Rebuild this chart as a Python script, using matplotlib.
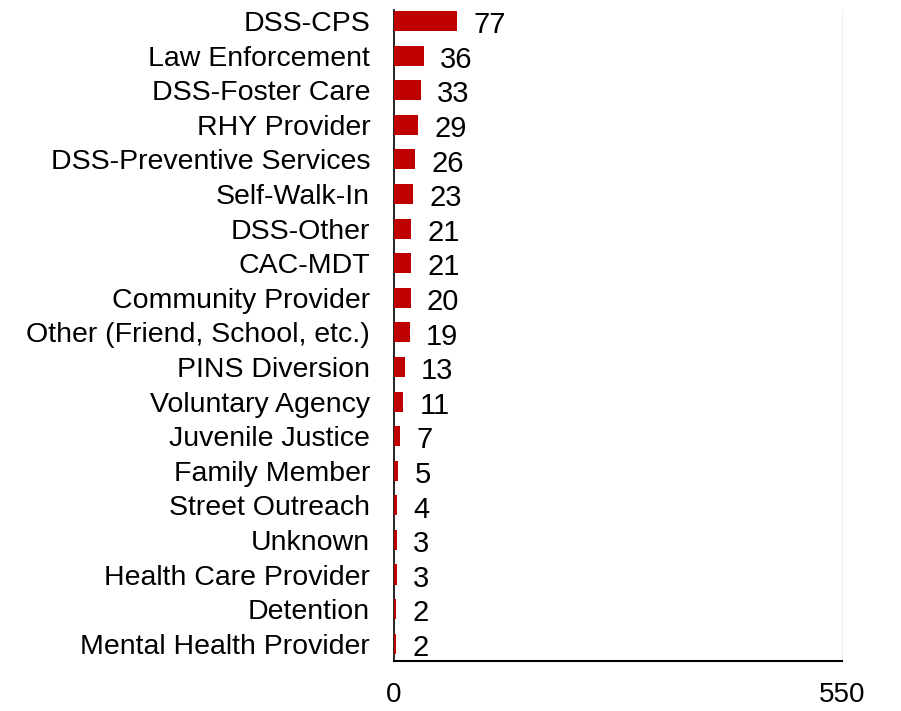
import matplotlib.pyplot as plt

categories = ['DSS-CPS', 'Law Enforcement', 'DSS-Foster Care', 'RHY Provider',
              'DSS-Preventive Services', 'Self-Walk-In', 'DSS-Other', 'CAC-MDT',
              'Community Provider', 'Other (Friend, School, etc.)', 'PINS Diversion',
              'Voluntary Agency', 'Juvenile Justice', 'Family Member', 'Street Outreach',
              'Unknown', 'Health Care Provider', 'Detention', 'Mental Health Provider']
values = [77, 36, 33, 29, 26, 23, 21, 21, 20, 19, 13, 11, 7, 5, 4, 3, 3, 2, 2]
x_ticks = [0, 550]

plt.rcParams['font.family'] = ['Liberation Sans', 'DejaVu Sans']

fig = plt.figure(figsize=(9.01, 7.11), dpi=100)
ax = fig.add_axes([0.437, 0.0703, 0.4973, 0.9157])

pos = list(range(len(categories)))
ax.barh(pos, values, height=0.58, color='#C00000', zorder=3, left=0.6)

for p, v in zip(pos, values):
    ax.annotate(str(v), (v, p), xytext=(12, -3), textcoords='offset points',
                va='center', ha='left', fontsize=21)

ax.set_xlim(0, 550)
ax.set_ylim(18.5, -0.32)
ax.set_yticks(pos)
ax.set_yticklabels(categories, fontsize=20.5)
ax.set_xticks(x_ticks)
ax.set_xticklabels([str(t) for t in x_ticks], fontsize=20)
ax.tick_params(axis='both', length=0)
ax.tick_params(axis='y', pad=17)
ax.tick_params(axis='x', pad=15)

ax.spines['top'].set_visible(False)
ax.spines['right'].set_color('#eeeeee')
ax.spines['left'].set_linewidth(1.2)
ax.spines['bottom'].set_linewidth(1.5)

fig.savefig('out.png', dpi=100)
